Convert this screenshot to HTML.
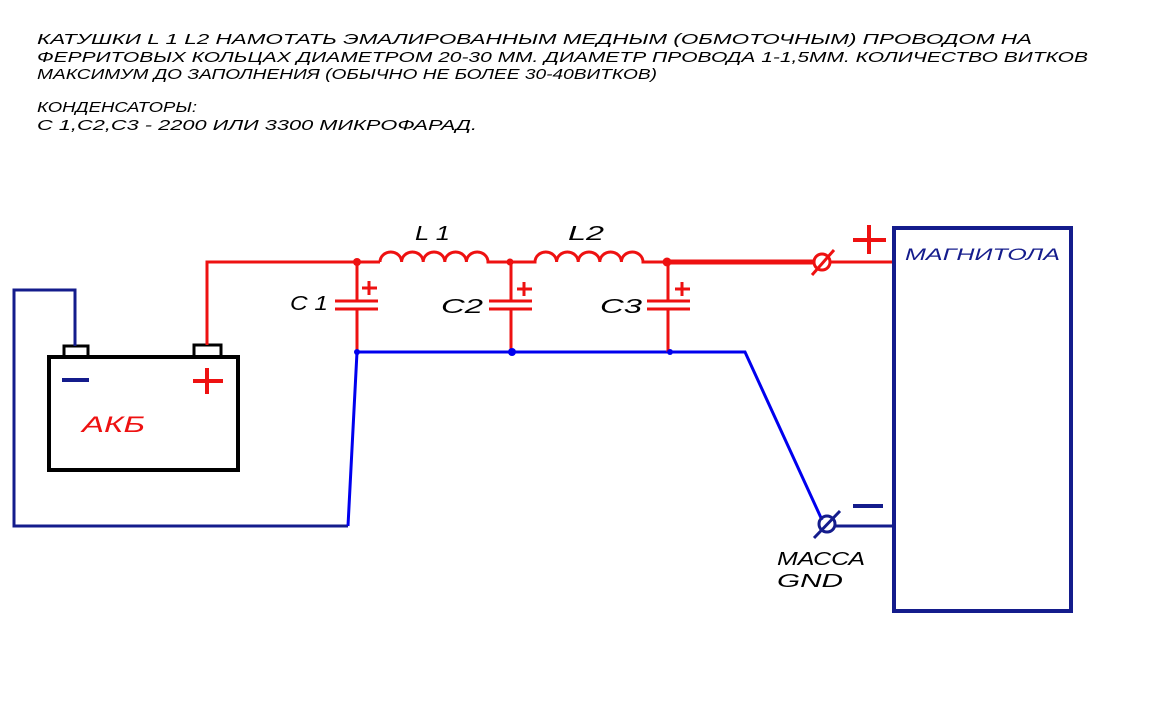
<!DOCTYPE html>
<html><head><meta charset="utf-8"><style>
html,body{margin:0;padding:0;background:#fff;width:1152px;height:706px;overflow:hidden}
svg text{font-family:"Liberation Sans","DejaVu Sans",sans-serif;font-style:italic}
</style></head><body>
<svg width="1152" height="706" viewBox="0 0 1152 706" xmlns="http://www.w3.org/2000/svg">
<g fill="#000" font-size="15">
<text x="37" y="44" textLength="995" lengthAdjust="spacingAndGlyphs">КАТУШКИ L 1 L2 НАМОТАТЬ ЭМАЛИРОВАННЫМ МЕДНЫМ (ОБМОТОЧНЫМ) ПРОВОДОМ НА</text>
<text x="37" y="62" textLength="1051" lengthAdjust="spacingAndGlyphs">ФЕРРИТОВЫХ КОЛЬЦАХ ДИАМЕТРОМ 20-30 ММ. ДИАМЕТР ПРОВОДА 1-1,5ММ. КОЛИЧЕСТВО ВИТКОВ</text>
<text x="37" y="79" textLength="620" lengthAdjust="spacingAndGlyphs">МАКСИМУМ ДО ЗАПОЛНЕНИЯ (ОБЫЧНО НЕ БОЛЕЕ 30-40ВИТКОВ)</text>
<text x="37" y="112" textLength="160" lengthAdjust="spacingAndGlyphs">КОНДЕНСАТОРЫ:</text>
<text x="37" y="130" textLength="440" lengthAdjust="spacingAndGlyphs">С 1,С2,С3  -  2200 ИЛИ 3300 МИКРОФАРАД.</text>
</g>
<!-- battery -->
<rect x="49" y="357" width="189" height="113" fill="none" stroke="#000" stroke-width="4"/>
<rect x="64" y="346" width="24" height="11" fill="none" stroke="#000" stroke-width="3"/>
<rect x="194" y="345" width="27" height="12" fill="none" stroke="#000" stroke-width="3"/>
<line x1="62" y1="380" x2="89" y2="380" stroke="#141c8c" stroke-width="4"/>
<line x1="193" y1="381" x2="223" y2="381" stroke="#e11" stroke-width="4"/>
<line x1="207" y1="368" x2="207" y2="394" stroke="#e11" stroke-width="4"/>
<text x="82" y="432" fill="#e11" font-size="22" textLength="63" lengthAdjust="spacingAndGlyphs">АКБ</text>
<!-- navy loop -->
<polyline points="75,346 75,290 14,290 14,526 348,526" fill="none" stroke="#141c8c" stroke-width="3"/>
<polyline points="348,526 357,352 745,352 822,520" fill="none" stroke="#0000ee" stroke-width="3"/>
<!-- red -->
<polyline points="207,345 207,262 380,262" fill="none" stroke="#e11" stroke-width="3"/>
<path d="M380,262 a10.8,10 0 0 1 21.6,0 a10.8,10 0 0 1 21.6,0 a10.8,10 0 0 1 21.6,0 a10.8,10 0 0 1 21.6,0 a10.8,10 0 0 1 21.6,0 L535,262 a10.8,10 0 0 1 21.6,0 a10.8,10 0 0 1 21.6,0 a10.8,10 0 0 1 21.6,0 a10.8,10 0 0 1 21.6,0 a10.8,10 0 0 1 21.6,0 L667,262" fill="none" stroke="#e11" stroke-width="3"/>
<line x1="667" y1="262" x2="814" y2="262" stroke="#e11" stroke-width="5"/>
<line x1="830" y1="262" x2="893" y2="262" stroke="#e11" stroke-width="3"/>
<circle cx="822" cy="262" r="8" fill="none" stroke="#e11" stroke-width="3"/>
<line x1="812" y1="275" x2="834" y2="250" stroke="#e11" stroke-width="3"/>
<line x1="853" y1="240" x2="886" y2="240" stroke="#e11" stroke-width="4"/>
<line x1="869" y1="225" x2="869" y2="254" stroke="#e11" stroke-width="4"/>
<!-- caps -->
<g stroke="#e11" stroke-width="3">
<line x1="357" y1="262" x2="357" y2="301"/><line x1="357" y1="309" x2="357" y2="352"/>
<line x1="335" y1="301" x2="378" y2="301"/><line x1="335" y1="309" x2="378" y2="309"/>
<line x1="511" y1="262" x2="511" y2="301"/><line x1="511" y1="309" x2="511" y2="352"/>
<line x1="489" y1="301" x2="532" y2="301"/><line x1="489" y1="309" x2="532" y2="309"/>
<line x1="668" y1="262" x2="668" y2="301"/><line x1="668" y1="309" x2="668" y2="352"/>
<line x1="647" y1="301" x2="690" y2="301"/><line x1="647" y1="309" x2="690" y2="309"/>
<line x1="362" y1="288" x2="377" y2="288"/><line x1="369" y1="281" x2="369" y2="295"/>
<line x1="517" y1="289" x2="532" y2="289"/><line x1="524" y1="282" x2="524" y2="296"/>
<line x1="675" y1="289" x2="690" y2="289"/><line x1="682" y1="282" x2="682" y2="296"/>
</g>
<circle cx="357" cy="262" r="4" fill="#e11"/><circle cx="510" cy="262" r="3.5" fill="#e11"/><circle cx="667" cy="262" r="4.5" fill="#e11"/>
<circle cx="357" cy="352" r="3" fill="#0000ee"/><circle cx="512" cy="352" r="4" fill="#0000ee"/><circle cx="670" cy="352" r="3" fill="#0000ee"/>
<g fill="#000" font-size="20">
<text x="415" y="240" textLength="35" lengthAdjust="spacingAndGlyphs">L 1</text>
<text x="568" y="240" textLength="36" lengthAdjust="spacingAndGlyphs">L2</text>
<text x="290" y="310" textLength="38" lengthAdjust="spacingAndGlyphs">С 1</text>
<text x="441" y="313" textLength="42" lengthAdjust="spacingAndGlyphs">С2</text>
<text x="600" y="313" textLength="42" lengthAdjust="spacingAndGlyphs">С3</text>
<text x="777" y="565" font-size="18" textLength="88" lengthAdjust="spacingAndGlyphs">МАССА</text>
<text x="777" y="587" font-size="18" textLength="66" lengthAdjust="spacingAndGlyphs">GND</text>
</g>
<!-- magnitola -->
<rect x="894" y="228" width="177" height="383" fill="none" stroke="#141c8c" stroke-width="4"/>
<text x="905" y="260" fill="#141c8c" font-size="17" textLength="155" lengthAdjust="spacingAndGlyphs">МАГНИТОЛА</text>
<circle cx="827" cy="524" r="8" fill="none" stroke="#141c8c" stroke-width="3"/>
<line x1="814" y1="538" x2="840" y2="511" stroke="#141c8c" stroke-width="3"/>
<line x1="835" y1="526" x2="894" y2="526" stroke="#141c8c" stroke-width="3"/>
<line x1="853" y1="506" x2="883" y2="506" stroke="#141c8c" stroke-width="4"/>
</svg>
</body></html>
